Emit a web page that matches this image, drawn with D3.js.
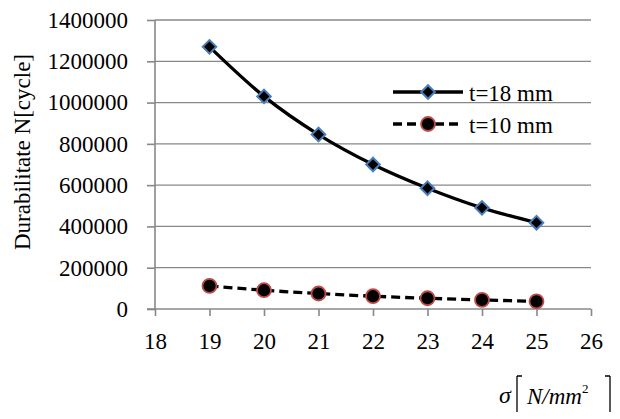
<!DOCTYPE html>
<html><head><meta charset="utf-8">
<script src="https://cdn.jsdelivr.net/npm/d3@7"></script>
<style>body{margin:0;background:#fff}svg{display:block}text{font-family:"Liberation Serif","Times New Roman",serif;fill:#000}</style>
</head><body><svg id="c" width="620" height="419"></svg>
<script>
const sigma = [19, 20, 21, 22, 23, 24, 25];
const n18 = [1270000, 1030000, 845000, 700000, 585000, 490000, 418000];
const n10 = [112000, 91000, 75000, 62000, 52000, 44000, 37000];
const seriesNames = ["t=18 mm", "t=10 mm"];
const xTicks = [18, 19, 20, 21, 22, 23, 24, 25, 26];
const yTicks = [0, 200000, 400000, 600000, 800000, 1000000, 1200000, 1400000];

const svg = d3.select("#c");
const x = d3.scaleLinear().domain([18, 26]).range([155, 591]);
const y = d3.scaleLinear().domain([0, 1400000]).range([309, 20]);
const grey = "#888";

svg.append("g").selectAll("line").data(yTicks.slice(1)).join("line")
  .attr("x1", x(18)).attr("x2", x(26)).attr("y1", d => y(d)).attr("y2", d => y(d))
  .attr("stroke", grey).attr("stroke-width", 1.3);

const ya = svg.append("g").attr("transform", `translate(${x(18)},0)`)
  .call(d3.axisLeft(y).tickValues(yTicks).tickFormat(d3.format("d")).tickSize(8).tickPadding(19));
const xa = svg.append("g").attr("transform", `translate(0,${y(0)})`)
  .call(d3.axisBottom(x).tickValues(xTicks).tickFormat(d3.format("d")).tickSize(7).tickPadding(17));
[ya, xa].forEach(a => {
  a.selectAll("path,line").attr("stroke", grey).attr("stroke-width", 1.6);
  a.selectAll("text").style("font-size", "23px").attr("fill", "#000");
});
ya.selectAll(".tick line").attr("x1", 0).attr("x2", -8);
ya.select(".domain").attr("d", `M0,${y(0)}V${y(1400000)}`);
xa.select(".domain").attr("d", `M${x(18)-8},0H${x(26)}`);

const line = d3.line().x((d, i) => x(sigma[i])).y(d => y(d)).curve(d3.curveMonotoneX);
svg.append("path").attr("d", line(n18)).attr("fill", "none").attr("stroke", "#000").attr("stroke-width", 3.3);
svg.append("path").attr("d", line(n10)).attr("fill", "none").attr("stroke", "#000").attr("stroke-width", 3.3).attr("stroke-dasharray", "9,5");

const diamond = d3.symbol().type(d3.symbolSquare).size(92);
function drawDiamond(g, cx, cy) {
  g.append("path").attr("d", diamond()).attr("transform", `translate(${cx},${cy}) rotate(45)`)
    .attr("fill", "#000").attr("stroke", "#4a7ebb").attr("stroke-width", 2);
}
function drawCircle(g, cx, cy) {
  g.append("circle").attr("cx", cx).attr("cy", cy).attr("r", 7)
    .attr("fill", "#000").attr("stroke", "#be4b48").attr("stroke-width", 1.8);
}
const m = svg.append("g");
n18.forEach((v, i) => drawDiamond(m, x(sigma[i]), y(v)));
n10.forEach((v, i) => drawCircle(m, x(sigma[i]), y(v)));

const lg = svg.append("g");
[[92, false], [124, true]].forEach(([ly, dashed], i) => {
  lg.append("line").attr("x1", 393).attr("x2", 463).attr("y1", ly).attr("y2", ly)
    .attr("stroke", "#000").attr("stroke-width", 3.3).attr("stroke-dasharray", dashed ? "9,5" : null);
  if (i === 0) drawDiamond(lg, 428, ly); else drawCircle(lg, 428, ly);
  lg.append("text").attr("x", 469).attr("y", ly + 9).style("font-size", "23px").text(seriesNames[i]);
});

svg.append("text").attr("transform", "translate(30,152) rotate(-90)").attr("text-anchor", "middle")
  .style("font-size", "23px").text("Durabilitate N[cycle]");

const xt = svg.append("g");
xt.append("text").attr("x", 499).attr("y", 403).style("font-size", "24px").style("font-style", "italic").text("σ");
xt.append("path").attr("d", "M517,376 V412 M517,376 h5").attr("stroke", "#000").attr("stroke-width", 1.3).attr("fill", "none");
xt.append("text").attr("x", 527).attr("y", 404).style("font-size", "23px").style("font-style", "italic")
  .text("N/mm").append("tspan").attr("dy", -11).style("font-size", "13px").style("font-style", "normal").text("2");
xt.append("path").attr("d", "M610,376 V412 M610,376 h-5").attr("stroke", "#000").attr("stroke-width", 1.3).attr("fill", "none");
</script></body></html>
